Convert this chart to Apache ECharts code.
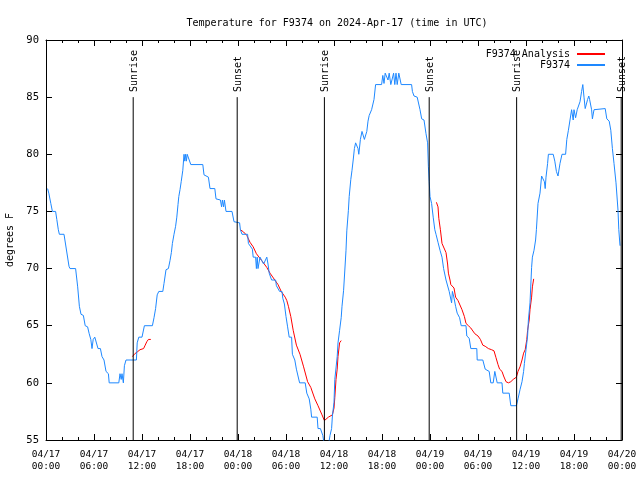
<!DOCTYPE html>
<html><head><meta charset="utf-8">
<script src="https://cdn.jsdelivr.net/npm/echarts@6/dist/echarts.min.js"></script>
<style>html,body{margin:0;padding:0;background:#fff}#c{width:640px;height:480px}</style>
</head><body><div id="c"></div>
<script>
// hours since 2024-04-17 00:00 UTC
const obsHours = [0.2,0.35,0.6,0.8,1.2,1.35,1.54,1.67,2.25,2.875,3.0,3.7,3.96,4.17,4.375,4.67,4.9,5.2,5.4,5.6,5.75,5.9,6.1,6.3,6.5,6.8,7.0,7.25,7.5,7.8,7.9,9.1,9.25,9.4,9.5,9.67,9.8,10.0,11.3,11.4,11.6,12.0,12.3,13.3,13.5,13.7,13.9,14.1,14.6,14.75,15.0,15.3,15.5,15.67,15.8,16.0,16.2,16.35,16.5,16.6,16.75,16.9,17.1,17.25,17.35,17.45,17.55,17.65,17.8,18.1,19.6,19.75,20.3,20.5,21.1,21.25,21.8,21.95,22.05,22.2,22.3,22.5,23.25,23.5,24.2,24.3,24.5,25.2,25.3,25.8,25.9,26.2,26.3,26.4,26.5,26.75,27.0,27.2,27.6,27.75,27.9,28.1,28.2,28.7,28.8,29.2,29.5,29.6,29.8,30.0,30.2,30.4,30.7,30.8,31.1,31.3,31.5,31.7,32.4,32.6,32.9,33.1,33.2,33.9,34.0,34.3,34.6,34.8,35.3,35.5,35.7,35.8,36.0,36.1,36.25,36.4,36.5,36.7,36.9,37.0,37.2,37.4,37.5,37.6,37.8,37.9,38.1,38.25,38.4,38.55,38.7,38.9,39.0,39.1,39.3,39.5,39.65,39.8,40.1,40.25,40.4,40.7,40.9,41.0,41.2,41.95,42.1,42.25,42.4,42.55,42.75,42.9,43.1,43.3,43.45,43.6,43.75,43.9,44.1,44.4,45.7,45.8,46.0,46.4,46.75,46.96,47.25,47.5,47.7,47.8,47.9,48.0,48.2,48.4,48.6,48.75,49.0,49.25,49.5,49.7,49.95,50.0,50.2,50.4,50.55,50.7,50.8,50.95,51.2,51.4,51.7,51.9,52.5,52.6,52.9,53.1,53.85,53.9,54.6,54.9,55.4,55.6,55.9,56.1,56.25,56.4,57.0,57.1,57.9,58.1,58.8,59.0,59.25,59.5,59.7,59.8,60.0,60.2,60.3,60.5,60.7,60.8,61.0,61.2,61.3,61.5,61.75,61.95,62.1,62.3,62.4,62.5,62.7,62.8,63.4,63.6,63.8,64.0,64.25,64.5,64.95,65.1,65.3,65.5,65.7,65.9,66.0,66.2,66.4,66.55,66.75,66.95,67.1,67.25,67.4,67.6,67.7,67.85,67.95,68.2,68.3,68.5,68.7,69.9,70.1,70.4,70.6,70.8,71.0,71.25,71.5,71.6,71.75];
const obsTemps = [77.0,76.6,75.7,75.0,75.0,74.3,73.4,73.0,73.0,70.2,70.0,70.0,68.4,66.7,66.0,65.9,65.0,64.9,64.3,63.8,63.0,63.8,64.0,64.0,63.0,63.0,62.3,62.0,61.0,60.8,60.0,60.0,60.8,60.3,60.8,60.0,61.5,62.0,62.0,63.5,64.0,64.0,65.0,65.0,65.7,66.5,67.7,68.0,68.0,68.7,69.9,70.0,70.7,71.4,72.2,73.0,73.7,74.5,75.6,76.3,76.9,77.6,78.6,80.0,79.4,80.0,79.4,80.0,80.0,79.1,79.1,78.2,78.0,77.0,77.0,76.1,76.0,75.4,76.0,75.4,76.0,75.0,75.0,74.1,74.0,73.4,73.0,73.0,72.2,71.7,71.0,71.0,70.0,71.0,70.0,71.0,71.0,70.4,71.0,70.4,69.6,69.6,69.0,69.0,68.5,68.0,68.0,67.4,66.9,65.8,64.9,64.0,64.0,62.5,62.0,61.2,60.6,60.0,60.0,59.1,58.6,57.7,57.0,57.0,56.0,56.0,55.4,54.5,54.5,55.4,56.0,57.1,58.3,60.3,61.3,62.3,63.5,64.6,65.7,66.7,68.1,70.4,71.6,73.3,75.1,76.3,77.8,78.6,79.5,80.5,81.0,81.0,80.5,80.0,81.3,82.0,82.0,81.3,82.0,82.9,83.4,83.9,83.9,84.8,86.1,86.1,86.9,86.2,87.1,87.1,86.5,87.1,86.1,86.1,87.1,86.1,87.1,86.1,87.1,86.1,86.1,85.5,85.1,85.0,83.9,83.1,83.0,81.8,81.0,78.9,77.6,76.3,75.7,74.5,73.4,73.0,72.3,71.6,71.0,70.0,70.0,69.0,69.0,68.0,68.0,67.0,68.0,67.6,66.7,66.1,65.7,65.0,65.0,64.1,63.9,63.0,63.0,62.0,62.0,61.2,61.0,60.0,60.0,61.0,61.0,60.0,60.0,59.1,59.1,58.0,58.0,58.6,59.4,60.1,61.0,61.7,62.9,64.1,65.5,67.0,70.1,71.0,71.6,72.5,73.4,75.7,76.6,78.1,78.0,77.6,77.0,78.0,79.2,80.0,80.0,79.4,78.5,78.1,79.2,80.0,80.0,81.3,82.1,83.0,83.9,83.0,83.9,83.2,83.9,84.0,84.6,85.5,86.1,85.0,84.0,84.0,84.8,85.1,84.8,83.9,83.1,83.9,84.0,84.0,83.1,82.9,82.1,80.5,79.2,77.5,75.1,73.4,72.0];
// analysis (null = gap)
const anaHours = [10.8,11.1,11.4,11.75,12.2,12.4,12.6,12.8,13.1,13.2,24.3,24.7,25.1,25.5,25.9,26.3,26.96,27.6,28.0,28.6,29.0,29.4,29.9,30.1,30.3,30.6,30.9,31.3,31.75,32.2,32.7,33.1,33.6,34.0,34.5,34.8,35.3,35.8,36.0,36.1,36.25,36.4,36.5,36.7,36.9,37.0,48.8,49.0,49.1,49.3,49.5,49.75,50.0,50.2,50.3,50.5,50.6,50.8,51.0,51.2,51.5,51.7,52.0,52.3,52.5,52.8,53.1,53.6,54.0,54.3,54.6,54.9,55.3,55.7,56.0,56.25,56.5,56.7,57.0,57.2,57.5,57.8,58.1,58.4,58.8,59.0,59.25,59.5,59.7,59.9,60.1,60.2,60.4,60.5,60.7,60.8,60.96];
const anaTemps = [62.3,62.55,62.7,62.9,63.0,63.3,63.6,63.8,63.8,null,73.4,73.2,72.9,72.3,71.9,71.3,70.7,70.1,69.6,69.0,68.6,68.0,67.5,67.2,66.7,65.8,64.6,63.3,62.5,61.4,60.1,59.6,58.6,58.0,57.2,56.7,57.0,57.2,57.8,58.7,60.3,61.2,62.3,63.5,63.7,null,75.8,75.4,74.4,73.4,72.2,71.8,71.4,70.4,69.6,69.0,68.6,68.7,68.3,67.5,67.2,67.1,66.4,65.8,65.2,65.0,64.8,64.3,64.1,63.8,63.3,63.2,63.0,62.9,62.8,62.2,61.6,61.2,61.0,60.6,60.1,60.0,60.1,60.3,60.5,61.0,61.4,62.0,62.6,62.9,63.8,64.6,65.5,66.4,67.5,68.4,69.1];
const sunHours = [10.9, 23.9, 34.8, 47.9, 58.83, 71.9];
const sunLabels = ['Sunrise','Sunset','Sunrise','Sunset','Sunrise','Sunset'];
const yTicks = [55,60,65,70,75,80,85,90];

const F = 'DejaVu Sans Mono';
const obs = obsHours.map((h,i)=>[h, obsTemps[i]]);
const ana = anaHours.map((h,i)=>[h, anaTemps[i]]);
const sun = sunHours.map((h,i)=>[h, 85, sunLabels[i]]);

function fmtX(v){
  const d = 17 + Math.floor(v/24);
  const hh = Math.round(v % 24);
  return '04/' + d + '\n' + String(hh).padStart(2,'0') + ':00';
}
const xBase = {
  type:'value', min:0, max:72, interval:6,
  splitLine:{show:false},
  axisLine:{show:true, onZero:false, lineStyle:{color:'#000', width:1}},
  axisTick:{show:true, inside:true, length:6, lineStyle:{color:'#000'}},
  minorTick:{show:true, splitNumber:3, length:3, lineStyle:{color:'#000'}},
};
const yBase = {
  type:'value', min:yTicks[0], max:yTicks[yTicks.length-1], interval:5,
  splitLine:{show:false},
  axisLine:{show:true, onZero:false, lineStyle:{color:'#000', width:1}},
  axisTick:{show:true, inside:true, length:6, lineStyle:{color:'#000'}},
};
const chart = echarts.init(document.getElementById('c'), null, {renderer:'canvas'});
chart.setOption({
  animation:false,
  backgroundColor:'#fff',
  title:{text:'Temperature for F9374 on 2024-Apr-17 (time in UTC)', left:332, top:13, textAlign:'center',
    textStyle:{fontFamily:F, fontSize:10, fontWeight:'normal', color:'#000'}},
  grid:{left:46, right:18, top:40, bottom:40, containLabel:false, outerBoundsMode:'none'},
  legend:{data:['F9374 Analysis','F9374'], orient:'vertical', right:30, top:44, align:'right',
    itemWidth:28, itemHeight:2, itemGap:1, icon:'rect',
    textStyle:{fontFamily:F, fontSize:10, color:'#000', padding:[0,2,0,0]}},
  xAxis:[
    Object.assign({}, xBase, {position:'bottom', axisLabel:{show:true, margin:9, formatter:fmtX, fontFamily:F, fontSize:9.5, color:'#000', lineHeight:12}}),
    Object.assign({}, xBase, {position:'top', axisLabel:{show:false}})
  ],
  yAxis:[
    Object.assign({}, yBase, {position:'left', name:'degrees F', nameLocation:'middle', nameRotate:90, nameGap:31,
      nameTextStyle:{fontFamily:F, fontSize:10, color:'#000'},
      axisLabel:{show:true, margin:7, fontFamily:F, fontSize:10.5, color:'#000'}}),
    Object.assign({}, yBase, {position:'right', axisLabel:{show:false}})
  ],
  series:[
    {name:'F9374 Analysis', type:'line', data:ana, showSymbol:false, symbol:'none', connectNulls:false,
      lineStyle:{color:'#ff0000', width:1}, itemStyle:{color:'#ff0000'}, clip:true, z:2},
    {name:'F9374', type:'line', data:obs, showSymbol:false, symbol:'none',
      lineStyle:{color:'#1e88ff', width:1}, itemStyle:{color:'#1e88ff'}, clip:true, z:3},
    {name:'sun', type:'custom', data:sun, encode:{x:0, y:1}, z:4, silent:true,
      renderItem:function(params, api){
        const h = api.value(0);
        const top = api.coord([h, api.value(1)]);
        const bot = api.coord([h, 55]);
        const lab = api.coord([h, 85.45]);
        return {type:'group', children:[
          {type:'line', shape:{x1:top[0], y1:top[1], x2:bot[0], y2:bot[1]}, style:{stroke:'#000', lineWidth:1}},
          {type:'text', x:lab[0] + 1, y:lab[1], rotation:Math.PI/2,
            style:{text:sunLabels[params.dataIndex], fontFamily:F, fontSize:10, fill:'#000', textAlign:'left', textVerticalAlign:'middle'}}
        ]};
      }}
  ]
});
</script></body></html>
